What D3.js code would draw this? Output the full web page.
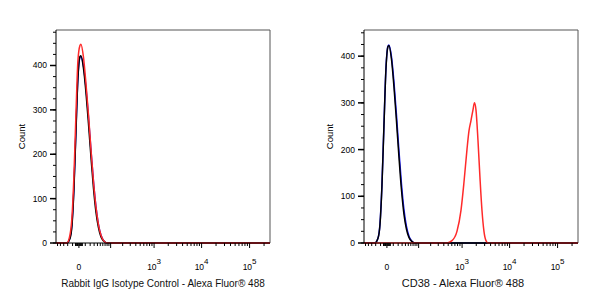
<!DOCTYPE html>
<html>
<head>
<meta charset="utf-8">
<script src="https://cdn.jsdelivr.net/npm/d3@7"></script>
<style>
  body { margin: 0; background: #fff; }
  svg { display: block; font-family: "Liberation Sans", Arial, sans-serif; }
</style>
</head>
<body>
<svg id="chart" width="600" height="300"></svg>
<script>
// --- data -----------------------------------------------------------------
// fluorescence values (bin centres) and event counts
var nearZeroX = [-22, -15, -11, -7.6, -4.3, -1.4, 1.4, 2.8, 6.7, 11.2, 16.2, 21.8, 28.1, 35.3, 43.3, 52.4, 62.7, 80];

var isoBlack = [0, 10, 40, 120, 250, 370, 420, 422, 395, 340, 270, 195, 125, 70, 35, 14, 5, 0];
var isoBlue  = [0, 12, 45, 125, 255, 372, 418, 420, 400, 350, 285, 210, 140, 82, 42, 18, 6, 0];
var isoRed   = [0, 18, 60, 150, 290, 410, 445, 448, 420, 360, 290, 212, 140, 82, 42, 18, 6, 0];

var cdBlack = [0, 10, 40, 120, 250, 370, 420, 423, 395, 335, 262, 185, 115, 62, 30, 12, 4, 0];
var cdBlue  = [0, 10, 42, 122, 252, 372, 421, 424, 400, 345, 275, 198, 128, 72, 36, 15, 5, 0];

var cdRedX = [470, 605, 776, 947, 1097, 1271, 1402, 1546, 1705, 1834, 1972, 2173, 2394, 2638, 2906, 3203, 3528];
var cdRed  = [0, 5, 25, 70, 130, 200, 240, 262, 285, 300, 285, 220, 140, 70, 25, 5, 0];

var xDomain = [-56, 266000];
var xMajorTicks = [0, 100, 1000, 10000, 100000];
var xMinorTicks = [-50, -40, -30, -20, -10, -5, -4, -3, -2, -1, 1, 2, 3, 4, 5,
  10, 20, 30, 40, 50, 60, 70, 80, 90, 200, 300, 400, 500, 600, 700, 800, 900,
  2000, 3000, 4000, 5000, 6000, 7000, 8000, 9000,
  20000, 30000, 40000, 50000, 60000, 70000, 80000, 90000, 200000];
var xLabels = [{v: 0, base: "0", exp: ""}, {v: 1000, base: "10", exp: "3"},
  {v: 10000, base: "10", exp: "4"}, {v: 100000, base: "10", exp: "5"}];

var yMajorTicks = [0, 100, 200, 300, 400];

var panels = [
  {left: 56, yMax: 480, title: "Rabbit IgG Isotype Control - Alexa Fluor\u00ae 488", titleShift: 0, titleSize: 10,
   series: [{x: nearZeroX, y: isoBlue, color: "#1a1aff"},
            {x: nearZeroX, y: isoBlack, color: "#000"},
            {x: nearZeroX, y: isoRed, color: "#ff2a2a"}]},
  {left: 364, yMax: 456, title: "CD38 - Alexa Fluor\u00ae 488", titleShift: -8, titleSize: 11,
   series: [{x: nearZeroX, y: cdBlue, color: "#1a1aff"},
            {x: nearZeroX, y: cdBlack, color: "#000"},
            {x: cdRedX, y: cdRed, color: "#ff2a2a"}]}
];

// --- drawing --------------------------------------------------------------
var plotW = 214, plotTop = 30, plotBottom = 243;
var svg = d3.select("#chart");

panels.forEach(function(p) {
  var g = svg.append("g");
  var x = d3.scaleSymlog().constant(28).domain(xDomain).range([p.left, p.left + plotW]);
  var y = d3.scaleLinear().domain([0, p.yMax]).range([plotBottom, plotTop]);

  // frame
  g.append("path")
    .attr("d", "M" + p.left + "," + plotTop + "H" + (p.left + plotW) + "V" + plotBottom)
    .attr("fill", "none").attr("stroke", "#555").attr("stroke-width", 1);

  // histograms, flat at zero across the full axis
  var line = d3.line()
    .x(function(d) { return x(d[0]); })
    .y(function(d) { return y(d[1]); })
    .curve(d3.curveMonotoneX);
  p.series.forEach(function(s) {
    var pts = [[xDomain[0], 0]].concat(s.x.map(function(v, i) { return [v, s.y[i]]; }), [[xDomain[1], 0]]);
    g.append("path").datum(pts)
      .attr("d", line)
      .attr("fill", "none")
      .attr("stroke", s.color)
      .attr("stroke-width", 1.5)
      .attr("stroke-linejoin", "round");
  });

  // y axis
  var yMinor = d3.range(0, p.yMax + 1, 25);
  var yAxis = g.append("g").attr("transform", "translate(" + p.left + ",0)");
  yAxis.append("line").attr("y1", plotTop).attr("y2", plotBottom).attr("stroke", "#000");
  yAxis.selectAll("line.minor").data(yMinor).enter().append("line")
    .attr("class", "minor")
    .attr("x1", -3).attr("x2", 0)
    .attr("y1", y).attr("y2", y).attr("stroke", "#000");
  yAxis.selectAll("line.major").data(yMajorTicks).enter().append("line")
    .attr("class", "major")
    .attr("x1", -6).attr("x2", 0)
    .attr("y1", y).attr("y2", y).attr("stroke", "#000").attr("stroke-width", 1.5);
  yAxis.selectAll("text").data(yMajorTicks).enter().append("text")
    .attr("x", -9).attr("y", y).attr("dy", "0.35em")
    .attr("text-anchor", "end").attr("font-size", 8.5)
    .text(function(d) { return d; });

  // x axis
  var xAxis = g.append("g").attr("transform", "translate(0," + plotBottom + ")");
  xAxis.append("line").attr("x1", p.left).attr("x2", p.left + plotW).attr("stroke", "#000");
  xAxis.selectAll("line.minor").data(xMinorTicks).enter().append("line")
    .attr("class", "minor")
    .attr("x1", x).attr("x2", x).attr("y1", 0).attr("y2", 3).attr("stroke", "#000");
  xAxis.selectAll("line.major").data(xMajorTicks).enter().append("line")
    .attr("class", "major")
    .attr("x1", x).attr("x2", x).attr("y1", 0).attr("y2", 5).attr("stroke", "#000");
  var lab = xAxis.selectAll("text").data(xLabels).enter().append("text")
    .attr("x", function(d) { return x(d.v); }).attr("y", 26.5)
    .attr("text-anchor", "middle").attr("font-size", 8.5);
  lab.append("tspan").text(function(d) { return d.base; });
  lab.filter(function(d) { return d.exp; }).append("tspan")
    .attr("dy", -6).attr("font-size", 8).text(function(d) { return d.exp; });

  // axis titles
  g.append("text")
    .attr("transform", "translate(" + (p.left - 34) + "," + ((plotTop + plotBottom) / 2) + ") rotate(-90)")
    .attr("text-anchor", "middle").attr("dy", "0.35em").attr("font-size", 9.5)
    .text("Count");
  g.append("text")
    .attr("x", p.left + plotW / 2 + p.titleShift).attr("y", 287)
    .attr("text-anchor", "middle").attr("font-size", p.titleSize).attr("fill", "#111")
    .text(p.title);
});
</script>
</body>
</html>
